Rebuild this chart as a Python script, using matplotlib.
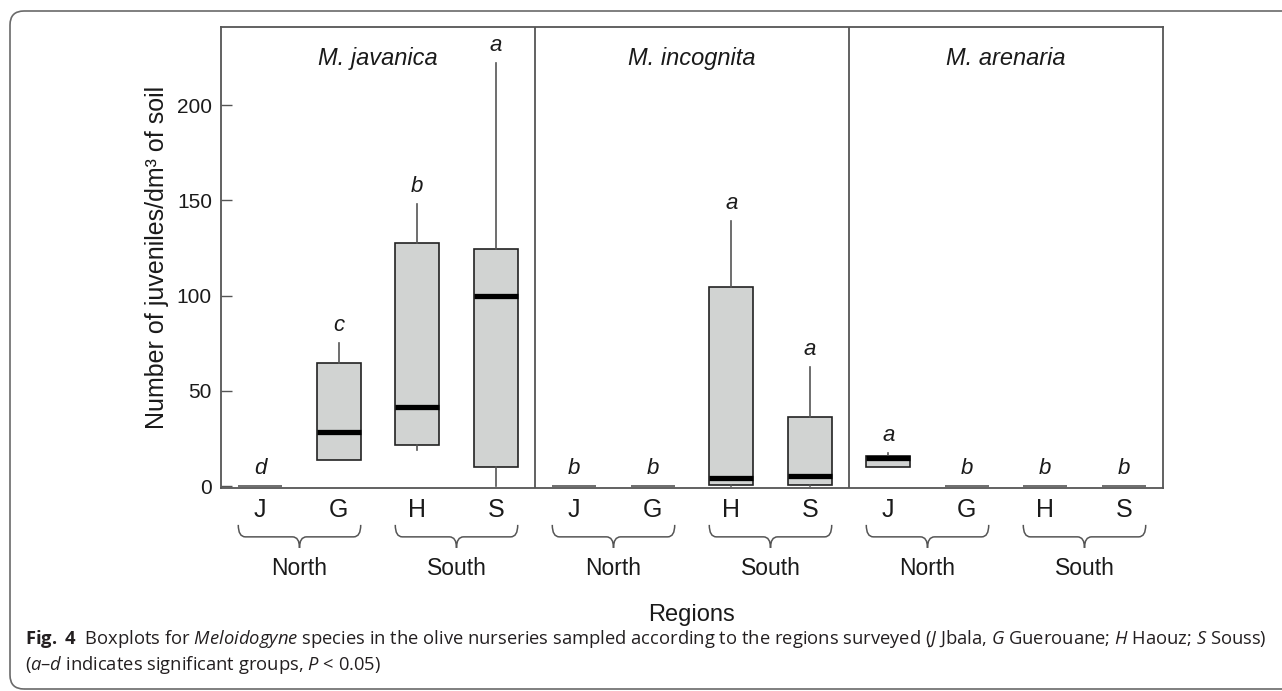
import numpy as np
import matplotlib
matplotlib.use("Agg")
import matplotlib.pyplot as plt
import matplotlib.transforms as mtransforms
from matplotlib.path import Path
from matplotlib.patches import PathPatch, FancyBboxPatch

plt.rcParams['font.family'] = ['Liberation Sans', 'DejaVu Sans']
plt.rcParams['mathtext.fontset'] = 'custom'
plt.rcParams['mathtext.it'] = 'Open Sans:italic'
plt.rcParams['mathtext.bf'] = 'Open Sans:bold'
plt.rcParams['mathtext.rm'] = 'Open Sans'

species = ["M. javanica", "M. incognita", "M. arenaria"]
sites = ["J", "G", "H", "S"]
zones = ["North", "South"]

# (whislo, q1, med, q3, whishi) for J, G, H, S
jav_stats = [(0, 0, 0, 0, 0), (13.7, 13.7, 28.4, 64.6, 75), (19, 21.5, 41.5, 127.5, 148), (0, 10, 100, 124.5, 222)]
inc_stats = [(0, 0, 0, 0, 0), (0, 0, 0, 0, 0), (0, 0.5, 4, 104.5, 139), (0, 0.5, 5, 36.2, 62.5)]
are_stats = [(10, 10, 14.7, 15.8, 17.3), (0, 0, 0, 0, 0), (0, 0, 0, 0, 0), (0, 0, 0, 0, 0)]

jav_groups = ["d", "c", "b", "a"]
inc_groups = ["b", "b", "a", "a"]
are_groups = ["a", "b", "b", "b"]

all_stats = [jav_stats, inc_stats, are_stats]
all_groups = [jav_groups, inc_groups, are_groups]

line_col = "#555555"
box_col = "#d1d3d2"
txt_col = "#1a1a1a"

fig = plt.figure(figsize=(12.82, 6.91), dpi=100)
ax = fig.add_axes([221/1282, 1-488/691, 942/1282, 461/691])

w = 0.56
for p, (stats, groups) in enumerate(zip(all_stats, all_groups)):
    for i, (st, g) in enumerate(zip(stats, groups)):
        pos = p*4 + i + 0.5
        if max(st) == 0:
            # all samples zero: flat line at 0
            ax.hlines(0, pos - w/2, pos + w/2, color=line_col, lw=1.2)
        else:
            d = dict(whislo=st[0], q1=st[1], med=st[2], q3=st[3], whishi=st[4])
            ax.bxp([d], positions=[pos], widths=w, showcaps=False, showfliers=False,
                   patch_artist=True,
                   boxprops=dict(facecolor=box_col, edgecolor="#222222", lw=1.2),
                   whiskerprops=dict(color=line_col, lw=1.2),
                   medianprops=dict(color="black", lw=3.8, solid_capstyle="butt"))
        ax.annotate(g, (pos, max(st)), xytext=(0, 8.6), textcoords="offset points",
                    ha="center", va="baseline", fontsize=16, style="italic", color=txt_col)

trans = ax.get_xaxis_transform()
for p, name in enumerate(species):
    ax.text(p*4 + 2, 0.918, name, transform=trans, ha="center", va="baseline",
            fontsize=17, style="italic", color=txt_col)
    if p > 0:
        ax.axvline(p*4, color=line_col, lw=1.3)
    for z, zname in enumerate(zones):
        xL = p*4 + 2*z + 0.5 - 0.28
        xR = p*4 + 2*z + 1.5 + 0.28
        xm = (xL + xR) / 2
        r = 0.09
        top, mid, tip = -0.080, -0.106, -0.130
        verts = [(xL, top), (xL, mid), (xL + r, mid), (xm - r, mid),
                 (xm, mid), (xm, tip), (xm, mid), (xm + r, mid),
                 (xR - r, mid), (xR, mid), (xR, top)]
        codes = [Path.MOVETO, Path.CURVE3, Path.CURVE3, Path.LINETO,
                 Path.CURVE3, Path.CURVE3, Path.CURVE3, Path.CURVE3,
                 Path.LINETO, Path.CURVE3, Path.CURVE3]
        ax.add_patch(PathPatch(Path(verts, codes), transform=trans, fill=False,
                               edgecolor=line_col, lw=1.1, clip_on=False))
        ax.text(xm, -0.189, zname, transform=trans, ha="center", va="baseline",
                fontsize=16.5, color=txt_col)

ax.text(6, -0.2885, "Regions", transform=trans, ha="center", va="baseline",
        fontsize=17, color=txt_col)

ax.set_xlim(0, 12)
ax.set_ylim(-1.05, 241)
ax.set_xticks([p*4 + i + 0.5 for p in range(3) for i in range(4)])
ax.set_xticklabels(sites * 3)
ax.set_yticks([0, 50, 100, 150, 200])
ax.tick_params(axis="x", length=0, pad=7, labelsize=18, labelcolor=txt_col)
ax.tick_params(axis="y", direction="in", length=8, width=1, color=line_col,
               pad=6.5, labelsize=15, labelcolor=txt_col)
for s in ax.spines.values():
    s.set_color(line_col)
    s.set_linewidth(1.3)

fig.text(157/1282, 1-257.5/691, "Number of juveniles/dm³ of soil", rotation=90,
         ha="center", va="center", fontsize=18, color=txt_col)

# caption
cap1 = (r"$\mathbf{Fig.\ 4}$  Boxplots for $\mathit{Meloidogyne}$ species in the olive nurseries "
        r"sampled according to the regions surveyed ($\mathit{J}$ Jbala, $\mathit{G}$ Guerouane; "
        r"$\mathit{H}$ Haouz; $\mathit{S}$ Souss)")
cap2 = r"($\mathit{a}$–$\mathit{d}$ indicates significant groups, $\mathit{P}$ < 0.05)"
fig.text(25/1282, 1-644/691, cap1, ha="left", va="baseline", fontsize=13.2,
         family="Open Sans", color="#231f20")
fig.text(25/1282, 1-670/691, cap2, ha="left", va="baseline", fontsize=13.2,
         family="Open Sans", color="#231f20")

frame = FancyBboxPatch((10, 2), 1300, 678, boxstyle="round,pad=0,rounding_size=14",
                       transform=mtransforms.IdentityTransform(), fill=False,
                       edgecolor="#6a6a6a", lw=1.2, clip_on=False)
fig.add_artist(frame)

fig.savefig("out.png", dpi=100)
